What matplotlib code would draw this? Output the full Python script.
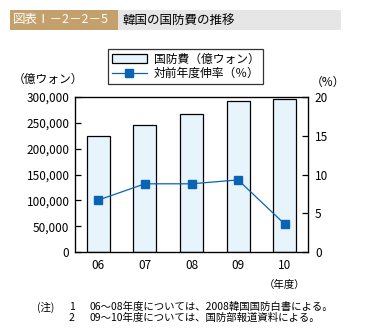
import numpy as np
import matplotlib.pyplot as plt
from matplotlib.patches import Rectangle

plt.rcParams['font.family'] = ['Noto Sans CJK JP', 'DejaVu Sans']

# data
years = ['06', '07', '08', '09', '10']
budget = [225400, 246700, 268000, 293000, 297000]     # 億ウォン
growth = [6.7, 8.8, 8.8, 9.3, 3.6]                     # %

BAR_FC = '#E8F4FC'
LINE_C = '#0A64B4'

W, H = 367, 336
fig = plt.figure(figsize=(W / 100, H / 100), dpi=100)

def fx(px):
    return px / W

def fy(py):
    return 1 - py / H

# title band
fig.patches.append(Rectangle((fx(10), fy(30)), fx(108), (20) / H, transform=fig.transFigure,
                             facecolor='#C4A06C', edgecolor='none'))
fig.patches.append(Rectangle((fx(118), fy(30)), fx(223), (20) / H, transform=fig.transFigure,
                             facecolor='#E6E6E6', edgecolor='none'))
fig.text(fx(13), fy(20), '図表Ⅰ－2－2－5', color='white', fontsize=9, va='center')
fig.text(fx(122), fy(20), '韓国の国防費の推移', color='black', fontsize=9, va='center')

ax = fig.add_axes([fx(75), fy(252), fx(308) - fx(75), (252 - 97) / H])
x = np.arange(len(years))
bars = ax.bar(x, budget, width=0.49, color=BAR_FC, edgecolor='black', linewidth=0.9,
              label='国防費（億ウォン）')
ax.set_xlim(-0.5, len(years) - 0.5)
ax.set_ylim(0, 300000)
ax.set_yticks(np.arange(0, 300001, 50000))
ax.set_yticklabels([f'{v:,}' for v in range(0, 300001, 50000)], fontsize=8.5)
ax.set_xticks(x)
ax.set_xticklabels(years, fontsize=8.5)
ax.tick_params(axis='x', length=0, pad=5)
ax.tick_params(axis='y', direction='in', length=4, width=0.9, pad=4)
for s in ax.spines.values():
    s.set_linewidth(0.9)

ax2 = ax.twinx()
line, = ax2.plot(x, growth, color=LINE_C, linewidth=0.9, marker='s', markersize=5.5,
                 label='対前年度伸率（％）')
ax2.set_ylim(0, 20)
ax2.set_yticks([0, 5, 10, 15, 20])
ax2.tick_params(axis='y', direction='in', length=4, width=0.9, pad=5, labelsize=8.5)

fig.text(fx(13), fy(79), '（億ウォン）', fontsize=8.5, va='center')
fig.text(fx(311), fy(82), '（%）', fontsize=8.5, va='center')
fig.text(fx(285), fy(285), '（年度）', fontsize=7.5, va='center', ha='center')

leg = fig.legend([bars, line], ['国防費（億ウォン）', '対前年度伸率（％）'],
                 loc='upper left', bbox_to_anchor=(fx(108), fy(49)), fontsize=8.5,
                 frameon=True, fancybox=False, edgecolor='black', borderpad=0.3,
                 handlelength=3.0, labelspacing=0.15, borderaxespad=0, handletextpad=0.6)
leg.get_frame().set_linewidth(0.9)

fig.text(fx(37), fy(307), '(注)', fontsize=7.5, va='center')
fig.text(fx(69), fy(307), '1', fontsize=7.5, va='center')
fig.text(fx(90), fy(307), '06〜08年度については、2008韓国国防白書による。', fontsize=7.5, va='center')
fig.text(fx(69), fy(318), '2', fontsize=7.5, va='center')
fig.text(fx(90), fy(318), '09〜10年度については、国防部報道資料による。', fontsize=7.5, va='center')

fig.savefig('out.png', dpi=100)
